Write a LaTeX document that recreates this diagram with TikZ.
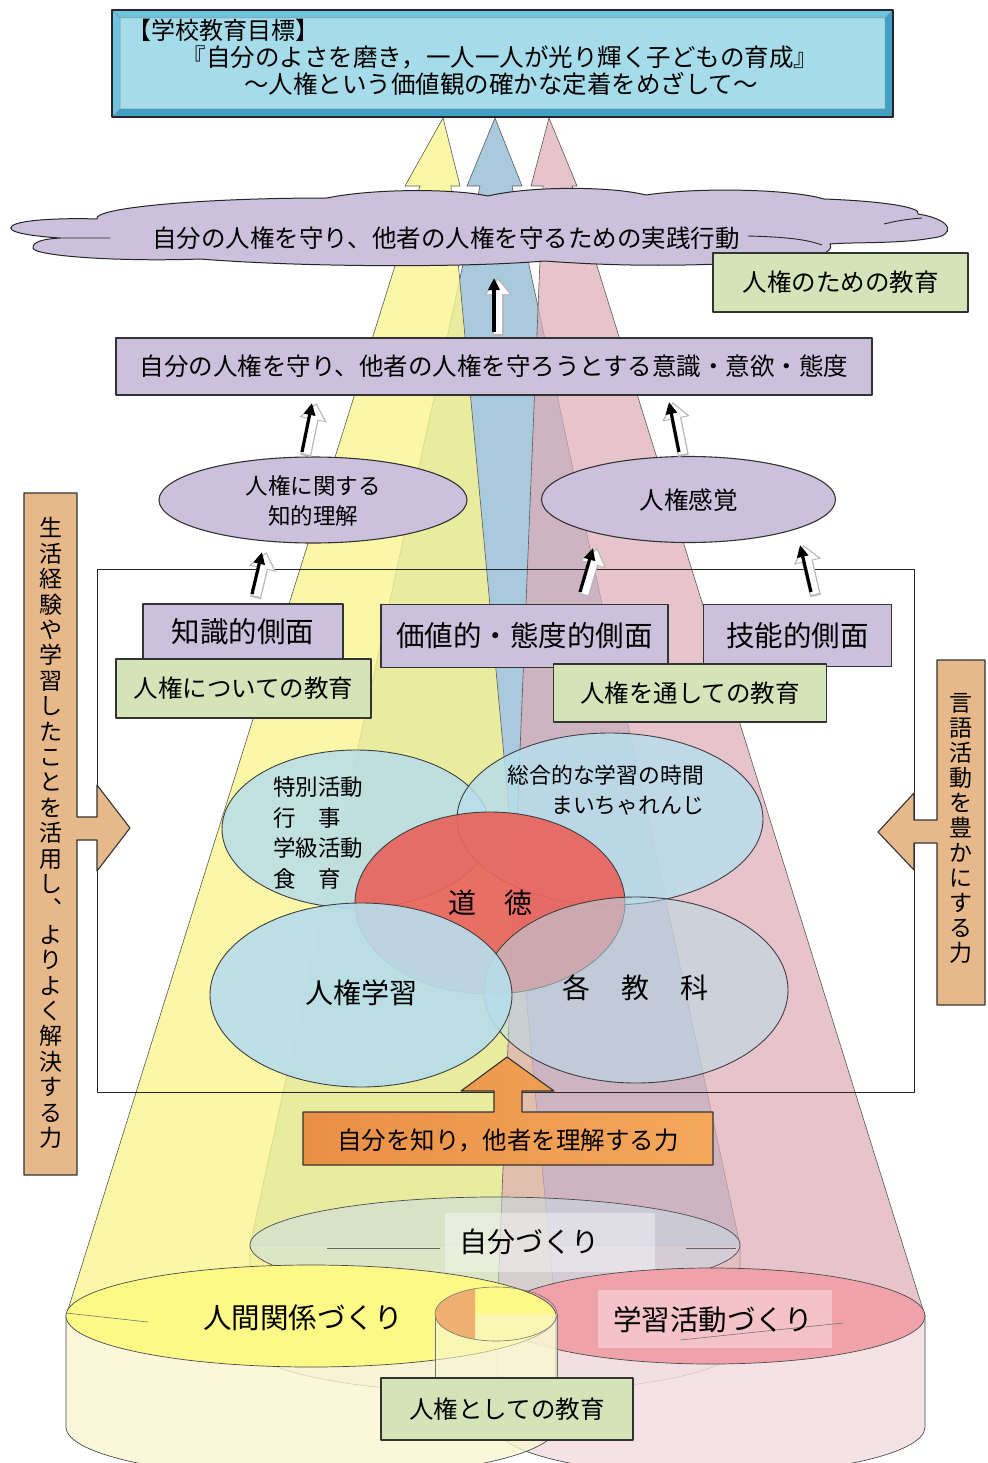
\documentclass[tikz,border=0pt]{standalone}
\usepackage{fontspec}
\setmainfont{Noto Sans CJK JP}
\usetikzlibrary{arrows.meta}
\definecolor{lav}{HTML}{CCC1DD}
\definecolor{grn}{HTML}{D5E4B8}
\definecolor{tanc}{HTML}{E6B88A}
\definecolor{orgA}{HTML}{E98F45}
\definecolor{orgB}{HTML}{F4A85C}
\definecolor{topfill}{HTML}{A6DBEA}
\definecolor{bevl}{HTML}{6EC4E0}
\definecolor{bevd}{HTML}{3FA0C8}
\definecolor{beamY}{HTML}{F9F590}
\definecolor{beamB}{HTML}{9AC0D8}
\definecolor{beamP}{HTML}{DEACB6}
\definecolor{vennB}{HTML}{B8DDEB}
\definecolor{vennR}{HTML}{E9645E}
\definecolor{cylY}{HTML}{FCF986}
\definecolor{cylP}{HTML}{EFA2AA}
\definecolor{cylB}{HTML}{C9DBE8}
\definecolor{bodyY}{HTML}{FAF6D2}
\definecolor{bodyP}{HTML}{F3DDE2}
\definecolor{bodyB}{HTML}{ECEBDD}
\definecolor{smallO}{HTML}{EDB071}
\newcommand\jfs[1]{\fontsize{#1}{#1}\selectfont}
\newcommand\jfsb[2]{\fontsize{#1}{#2}\selectfont}
\newcommand\sarrow[2]{%
  \draw[transform canvas={xshift=4pt,yshift=-2pt}, line width=11pt, black!28,
        -{Triangle[length=17pt,width=27pt]}, shorten >=-2pt, shorten <=-2pt] #1 -- #2;
  \draw[transform canvas={xshift=4pt,yshift=-2pt}, line width=8.4pt, white,
        -{Triangle[length=14pt,width=22pt]}] #1 -- #2;
  \draw[line width=3.2pt, black, -{Triangle[length=12pt,width=11pt]}] #1 -- #2;}
\begin{document}
\begin{tikzpicture}[x=1pt,y=-1pt, line join=round,
  bx/.style={draw=black!80, line width=1.1pt, inner sep=0pt},
  lavbox/.style={bx, fill=lav},
  grnbox/.style={bx, fill=grn},
  lbl/.style={inner sep=0pt},
  beam/.style={draw=black!65, line width=0.6pt},
  venn/.style={draw=black!75, line width=0.9pt},
  cyl/.style={draw=black!70, line width=0.7pt}]
\useasboundingbox (0,0) rectangle (987,1463);
\fill[white] (0,0) rectangle (987,1463);

% ---------- back cylinder (自分づくり) body
\fill[bodyB] (250,1245) -- (250,1345) arc[start angle=180,end angle=0,x radius=245,y radius=48] -- (740,1245) -- cycle;
\draw[cyl] (250,1245) -- (250,1345) arc[start angle=180,end angle=0,x radius=245,y radius=48] -- (740,1245);

% ---------- beams
\path[beam, fill=beamB, fill opacity=0.85] (250,1245) -- (480,186) -- (467,186) -- (495,118) -- (522,186) -- (512,186) -- (740,1245) -- cycle;
\path[beam, fill=beamY, fill opacity=0.8] (66,1316) -- (420,186) -- (405,186) -- (443,118) -- (460,186) -- (451,186) -- (556,1316) -- cycle;
\path[beam, fill=beamP, fill opacity=0.7] (497,1316) -- (543,186) -- (531,186) -- (549,118) -- (577,186) -- (572,186) -- (925,1316) -- cycle;

% ---------- 自分づくり top
\path[cyl, fill=cylB, fill opacity=0.55] (495,1245) ellipse[x radius=245,y radius=48];
\fill[white, fill opacity=0.4] (445,1213) rectangle (655,1272);
\draw[black!60, line width=0.6pt] (327,1248) -- (440,1248) (686,1248) -- (736,1248);

% ---------- pink cylinder
\fill[bodyP, fill opacity=0.85] (497,1316) -- (497,1427) arc[start angle=180,end angle=0,x radius=214,y radius=48] -- (925,1316) -- cycle;
\draw[cyl] (497,1316) -- (497,1427) arc[start angle=180,end angle=0,x radius=214,y radius=48] -- (925,1316);
\path[cyl, fill=cylP] (711,1316) ellipse[x radius=214,y radius=48];
\fill[white, fill opacity=0.35] (598,1290) rectangle (832,1348);
\draw[black!55, line width=0.6pt] (680,1340) -- (843,1323);

% ---------- yellow cylinder
\fill[bodyY, fill opacity=0.8] (66,1316) -- (66,1427) arc[start angle=180,end angle=0,x radius=245,y radius=51] -- (556,1316) -- cycle;
\draw[cyl] (66,1316) -- (66,1427) arc[start angle=180,end angle=0,x radius=245,y radius=51] -- (556,1316);
\path[cyl, fill=cylY] (311,1316) ellipse[x radius=245,y radius=51];
\draw[black!55, line width=0.6pt] (66,1313) -- (148,1322);

% ---------- small cylinder
\fill[bodyY, fill opacity=0.6] (435,1314) rectangle (557,1400);
\draw[black!55, line width=0.6pt] (435,1314) -- (435,1400) (557,1314) -- (557,1400);
\begin{scope}
  \clip (430,1280) rectangle (475,1350);
  \fill[smallO] (496,1314) ellipse[x radius=61,y radius=27];
\end{scope}
\draw[black!55, line width=0.6pt] (496,1314) ellipse[x radius=61,y radius=27];

% ---------- cylinder texts and green box
\node[lbl, font=\jfs{28}] (jibun) at (529,1242) {自分づくり};
\node[lbl, font=\jfs{28.5}] (ningen) at (303,1318) {人間関係づくり};
\node[lbl, font=\jfs{28.5}] (gakushu) at (713,1320) {学習活動づくり};
\node[grnbox, minimum width=252pt, minimum height=62pt, font=\jfs{24.5}] (g3) at (507,1409) {人権としての教育};

% ---------- big frame
\draw[black!85, line width=1pt] (97,569) rectangle (914,1092);

% ---------- Venn ellipses
\path[venn, fill=vennB, fill opacity=0.85] (356,829) ellipse[x radius=134,y radius=79];
\path[venn, fill=vennB, fill opacity=0.85] (610,819) ellipse[x radius=153,y radius=86];
\path[venn, fill=vennR, fill opacity=0.92] (490,903) ellipse[x radius=135,y radius=91];
\path[venn, fill=vennB, fill opacity=0.55] (636,990) ellipse[x radius=152,y radius=93];
\path[venn, fill=vennB, fill opacity=0.92] (361,995) ellipse[x radius=151,y radius=92];

\node[lbl, anchor=west, align=left, font=\jfsb{22.5}{30.5}] (tokubetsu) at (273,833) {特別活動\\行　事\\学級活動\\食　育};
\node[lbl, anchor=east, align=right, font=\jfsb{21.8}{30}] (sogo) at (704,790) {総合的な学習の時間\\まいちゃれんじ};
\node[lbl, font=\jfs{28}] (dotoku) at (490,903) {道　徳};
\node[lbl, font=\jfs{28}] (jinken) at (361,993) {人権学習};
\node[lbl, font=\jfs{28}] (kakukyoka) at (635,988) {各\hspace{31pt}教\hspace{31pt}科};

% ---------- orange box with up arrow
\draw[bx, left color=orgA, right color=orgB] (303,1112) -- (494,1112) -- (494,1091) -- (461,1091) -- (507,1057) -- (554,1091) -- (522,1091) -- (522,1112) -- (713,1112) -- (713,1165) -- (303,1165) -- cycle;
\node[lbl, font=\jfs{24.5}] (shiru) at (508,1140) {自分を知り，他者を理解する力};

% ---------- aspect boxes
\node[lavbox, minimum width=200pt, minimum height=56pt, font=\jfs{28.5}] (k1) at (243,632) {知識的側面};
\node[lavbox, minimum width=287pt, minimum height=63pt, font=\jfs{28.5}] (k2) at (524.5,636) {価値的・態度的側面};
\node[lavbox, minimum width=188pt, minimum height=62pt, font=\jfs{28.5}] (k3) at (797.5,635.5) {技能的側面};
\node[grnbox, minimum width=255pt, minimum height=59pt, font=\jfs{24.5}] (g1) at (243.5,688.5) {人権についての教育};
\node[grnbox, minimum width=273pt, minimum height=58pt, font=\jfs{24.5}] (g2) at (690,693) {人権を通しての教育};

% ---------- ellipses
\draw[bx, fill=lav] (313,500) ellipse[x radius=154,y radius=43];
\node[lbl, align=center, font=\jfsb{22.5}{30}] (e1) at (313,501) {人権に関する\\知的理解};
\draw[bx, fill=lav] (688.5,499.5) ellipse[x radius=147,y radius=43];
\node[lbl, font=\jfs{24.5}] (e2) at (688.5,500) {人権感覚};

% ---------- wide purple box, cloud, green box
\node[lavbox, minimum width=756pt, minimum height=57pt, font=\jfs{24.5}] (p0) at (494,366.5) {自分の人権を守り、他者の人権を守ろうとする意識・意欲・態度};

\path[draw=black!85, line width=1pt, fill=lav]
 (97,219) .. controls (92,208) and (200,198) .. (327,198)
 .. controls (370,189) and (450,188) .. (488,196)
 .. controls (530,186) and (610,186) .. (646,195)
 .. controls (700,187) and (790,189) .. (824,199)
 .. controls (880,201) and (922,207) .. (918,214)
 .. controls (955,220) and (955,236) .. (932,238)
 .. controls (900,244) and (850,242) .. (830,244)
 .. controls (835,252) and (815,259) .. (790,259)
 .. controls (700,268) and (610,266) .. (545,261)
 .. controls (460,268) and (300,267) .. (200,259)
 .. controls (120,262) and (28,256) .. (33,247)
 .. controls (34,241) and (45,239) .. (60,238)
 .. controls (30,236) and (5,232) .. (12,226)
 .. controls (20,219) and (70,218) .. (97,219) -- cycle;
\draw[black!85, line width=0.9pt] (60,238) -- (110,238)
  (748,236) .. controls (785,237) and (805,239) .. (822,245)
  (884,224) .. controls (900,220) and (910,219) .. (922,218);
\node[lbl, font=\jfs{24.5}] (cloudtext) at (446,238) {自分の人権を守り、他者の人権を守るための実践行動};

\node[grnbox, minimum width=255pt, minimum height=59pt, font=\jfs{24.5}] (g0) at (840.5,282.5) {人権のための教育};

% ---------- top goal box
\fill[bevd] (112,10) rectangle (893,117);
\fill[bevl] (112,10) -- (893,10) -- (885,18) -- (120,18) -- cycle;
\fill[bevl] (112,10) -- (120,18) -- (120,109) -- (112,117) -- cycle;
\fill[topfill] (120,18) rectangle (885,109);
\draw[black!45, line width=0.5pt] (120,18) rectangle (885,109)
  (112,10) -- (120,18) (893,10) -- (885,18) (112,117) -- (120,109) (893,117) -- (885,109);
\node[draw=black!85, line width=1.2pt, inner sep=0pt, minimum width=781pt, minimum height=107pt] (goal) at (502.5,63.5) {};
\node[lbl, anchor=west, font=\jfs{24}] (t1) at (127,30) {【学校教育目標】};
\node[lbl, font=\jfs{24.5}] (t2) at (500,57) {『自分のよさを磨き，一人一人が光り輝く子どもの育成』};
\node[lbl, font=\jfs{24.5}] (t3) at (501,84) {～人権という価値観の確かな定着をめざして～};

% ---------- side callouts
\draw[bx, fill=tanc] (24,493) -- (77,493) -- (77,817) -- (97,817) -- (97,785) -- (130,828) -- (97,871) -- (97,840) -- (77,840) -- (77,1175) -- (24,1175) -- cycle;
\node[lbl, align=center, font=\jfsb{23}{25.4}] (lefttext) at (50.5,833) {生\\活\\経\\験\\や\\学\\習\\し\\た\\こ\\と\\を\\活\\用\\し\\︑\\よ\\り\\よ\\く\\解\\決\\す\\る\\力};
\draw[bx, fill=tanc] (985,660) -- (937,660) -- (937,820) -- (914,820) -- (914,793) -- (878,832) -- (914,870) -- (914,843) -- (937,843) -- (937,1005) -- (985,1005) -- cycle;
\node[lbl, align=center, font=\jfsb{23}{25}] (righttext) at (961,828) {言\\語\\活\\動\\を\\豊\\か\\に\\す\\る\\力};

% ---------- shadow arrows
\coordinate (aAt) at (494,332); \coordinate (aAh) at (494,278);
\coordinate (aBt) at (302,452); \coordinate (aBh) at (312,403);
\coordinate (aCt) at (679,452); \coordinate (aCh) at (669,402);
\coordinate (aDt) at (252,594); \coordinate (aDh) at (262,552);
\coordinate (aEt) at (580,592); \coordinate (aEh) at (593,548);
\coordinate (aFt) at (811,592); \coordinate (aFh) at (800,545);
\sarrow{(aAt)}{(aAh)}
\sarrow{(aBt)}{(aBh)}
\sarrow{(aCt)}{(aCh)}
\sarrow{(aDt)}{(aDh)}
\sarrow{(aEt)}{(aEh)}
\sarrow{(aFt)}{(aFh)}
\end{tikzpicture}
\end{document}
